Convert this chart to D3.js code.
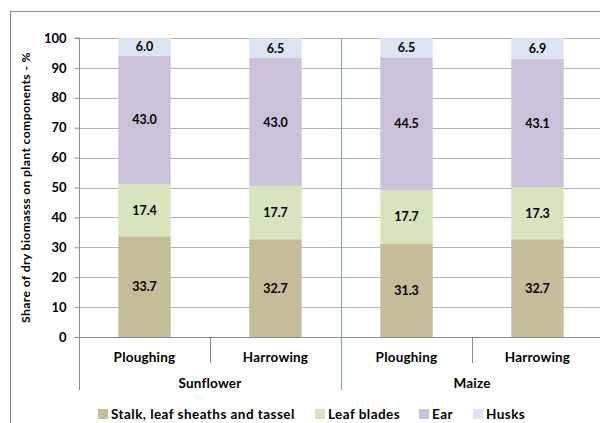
<!DOCTYPE html>
<html>
<head>
<meta charset="utf-8">
<script src="https://cdn.jsdelivr.net/npm/d3@7"></script>
<style>
  html, body { margin: 0; padding: 0; background: #fff; }
  svg { display: block; font-family: Lato, "Open Sans", sans-serif; }
</style>
</head>
<body>
<svg id="chart" width="600" height="423"></svg>
<script>
// Treatments, grouped by crop
const crops = ["Sunflower", "Maize"];
const treatments = ["Ploughing", "Harrowing", "Ploughing", "Harrowing"];
const cropOfBar = ["Sunflower", "Sunflower", "Maize", "Maize"];

// Share of dry biomass per plant component (%)
const components = ["Stalk, leaf sheaths and tassel", "Leaf blades", "Ear", "Husks"];
const stalk = [33.7, 32.7, 31.3, 32.7];
const leafBlades = [17.4, 17.7, 17.7, 17.3];
const ear = [43.0, 43.0, 44.5, 43.1];
const husks = [6.0, 6.5, 6.5, 6.9];
const colors = ["#c4bd97", "#d7e4bd", "#ccc1da", "#dbe5f1"];
const yTicks = [0, 10, 20, 30, 40, 50, 60, 70, 80, 90, 100];

const series = [stalk, leafBlades, ear, husks];
const rows = treatments.map((t, i) => {
  const r = { id: i };
  components.forEach((c, k) => r[c] = series[k][i]);
  return r;
});

const svg = d3.select("#chart");
const plotL = 79, plotR = 603, plotT = 38, plotB = 337;

// Outer chart frame
svg.append("rect").attr("x", 10.5).attr("y", 11.5).attr("width", 620).attr("height", 430)
  .attr("fill", "none").attr("stroke", "#8c8c8c").attr("stroke-width", 1);

const x = d3.scaleBand().domain(d3.range(treatments.length)).range([plotL, plotR])
  .paddingInner(0.6).paddingOuter(0.3);
const step = x.step();
const y = d3.scaleLinear().domain([0, 100]).range([plotB, plotT]);

// Gridlines
svg.append("g").selectAll("line").data(yTicks.filter(d => d > 0)).join("line")
  .attr("x1", plotL).attr("x2", plotR)
  .attr("y1", d => Math.round(y(d)) + 0.5).attr("y2", d => Math.round(y(d)) + 0.5)
  .attr("stroke", "#b3b3b3").attr("stroke-width", 1);

// Y axis
const yAxis = svg.append("g").attr("transform", `translate(${plotL + 0.5},0)`)
  .call(d3.axisLeft(y).tickValues(yTicks).tickSize(5).tickPadding(8).tickFormat(d3.format("d")));
yAxis.selectAll(".tick line").attr("stroke", "#8c8c8c");
yAxis.selectAll(".tick text").attr("font-size", 13).attr("font-weight", "bold")
  .attr("fill", "#000").attr("font-family", "Lato, sans-serif");
yAxis.select(".domain").attr("stroke", "#8c8c8c").attr("d", `M-5,${plotT}H0V${plotB + 53}`);

// Baseline
svg.append("line").attr("x1", plotL).attr("x2", plotR)
  .attr("y1", plotB + 0.5).attr("y2", plotB + 0.5).attr("stroke", "#8c8c8c");

// Stacked bars
const stack = d3.stack().keys(components)(rows);
const layers = svg.append("g").selectAll("g").data(stack).join("g")
  .attr("fill", (d, i) => colors[i]);
layers.selectAll("rect").data(d => d).join("rect")
  .attr("x", (d, i) => x(i)).attr("width", x.bandwidth())
  .attr("y", d => y(Math.min(d[1], 100))).attr("height", d => y(d[0]) - y(Math.min(d[1], 100)));

// Value labels
layers.selectAll("text").data(d => d.map(v => ({ v, key: d.key }))).join("text")
  .attr("x", (d, i) => x(i) + x.bandwidth() / 2)
  .attr("y", d => y((d.v[0] + Math.min(d.v[1], 100)) / 2) + 4.5)
  .attr("text-anchor", "middle").attr("font-size", 12.5).attr("font-weight", "bold").attr("fill", "#000")
  .text(d => d3.format(".1f")(d.v.data[d.key]));

// Category tick marks between treatments
const bandLeft = i => plotL + i * step;
[1, 3].forEach(i => {
  svg.append("line").attr("x1", Math.round(bandLeft(i)) + 0.5).attr("x2", Math.round(bandLeft(i)) + 0.5)
    .attr("y1", plotB).attr("y2", plotB + 26).attr("stroke", "#8c8c8c");
});
// Crop separator
svg.append("line").attr("x1", Math.round(bandLeft(2)) + 0.5).attr("x2", Math.round(bandLeft(2)) + 0.5)
  .attr("y1", plotT).attr("y2", plotB + 53).attr("stroke", "#7f9fcf");

// Treatment labels
svg.append("g").selectAll("text").data(treatments).join("text")
  .attr("x", (d, i) => x(i) + x.bandwidth() / 2).attr("y", plotB + 25)
  .attr("text-anchor", "middle").attr("font-size", 13.5).attr("font-weight", "bold")
  .attr("letter-spacing", 0.2).text(d => d);

// Crop labels
svg.append("g").selectAll("text").data(crops).join("text")
  .attr("x", d => {
    const idx = cropOfBar.map((c, i) => c === d ? i : -1).filter(i => i >= 0);
    return (bandLeft(idx[0]) + bandLeft(idx[idx.length - 1] + 1)) / 2;
  })
  .attr("y", plotB + 51)
  .attr("text-anchor", "middle").attr("font-size", 13.5).attr("font-weight", "bold")
  .attr("letter-spacing", 0.2).text(d => d);

// Y axis title
svg.append("text").attr("transform", `translate(29.5,${(plotT + plotB) / 2}) rotate(-90)`)
  .attr("text-anchor", "middle").attr("font-size", 12.2).attr("font-weight", "bold")
  .attr("letter-spacing", 0.35)
  .text("Share of dry biomasss on plant components - %");

// Legend
const legendX = [98, 315, 419, 473];
const legend = svg.append("g").selectAll("g").data(components).join("g")
  .attr("transform", (d, i) => `translate(${legendX[i]},409)`);
legend.append("rect").attr("width", 10).attr("height", 10).attr("fill", (d, i) => colors[i]);
legend.append("text").attr("x", 13).attr("y", 9.5).attr("font-size", 13.5).attr("font-weight", "bold")
  .attr("letter-spacing", 0.45).text(d => d);
</script>
</body>
</html>
